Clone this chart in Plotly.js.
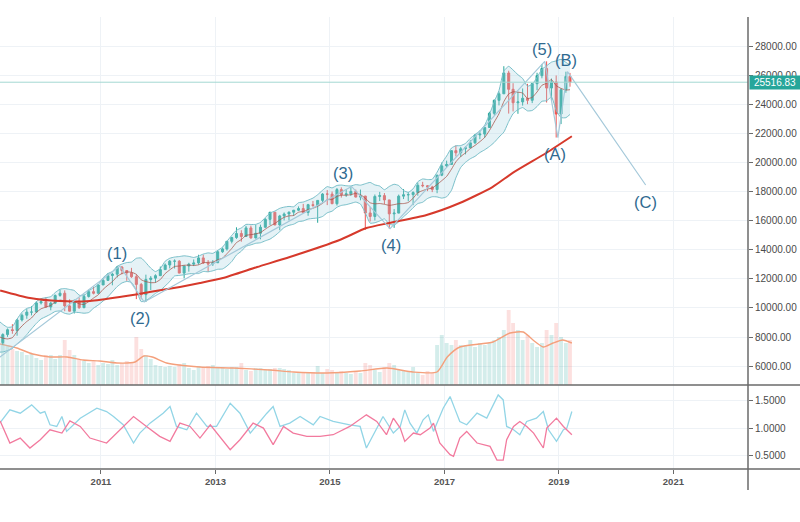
<!DOCTYPE html>
<html>
<head>
<meta charset="utf-8">
<script src="https://cdn.plot.ly/plotly-3.0.1.min.js"></script>
<style>html,body{margin:0;padding:0;background:#fff;}#chart{width:800px;height:522px;}</style>
</head>
<body>
<div id="chart"></div>
<script>
// ---------- DATA (monthly) ----------
const months = [
'2009-03-15','2009-04-15','2009-05-15','2009-06-15','2009-07-15','2009-08-15','2009-09-15','2009-10-15','2009-11-15','2009-12-15',
'2010-01-15','2010-02-15','2010-03-15','2010-04-15','2010-05-15','2010-06-15','2010-07-15','2010-08-15','2010-09-15','2010-10-15','2010-11-15','2010-12-15',
'2011-01-15','2011-02-15','2011-03-15','2011-04-15','2011-05-15','2011-06-15','2011-07-15','2011-08-15','2011-09-15','2011-10-15','2011-11-15','2011-12-15',
'2012-01-15','2012-02-15','2012-03-15','2012-04-15','2012-05-15','2012-06-15','2012-07-15','2012-08-15','2012-09-15','2012-10-15','2012-11-15','2012-12-15',
'2013-01-15','2013-02-15','2013-03-15','2013-04-15','2013-05-15','2013-06-15','2013-07-15','2013-08-15','2013-09-15','2013-10-15','2013-11-15','2013-12-15',
'2014-01-15','2014-02-15','2014-03-15','2014-04-15','2014-05-15','2014-06-15','2014-07-15','2014-08-15','2014-09-15','2014-10-15','2014-11-15','2014-12-15',
'2015-01-15','2015-02-15','2015-03-15','2015-04-15','2015-05-15','2015-06-15','2015-07-15','2015-08-15','2015-09-15','2015-10-15','2015-11-15','2015-12-15',
'2016-01-15','2016-02-15','2016-03-15','2016-04-15','2016-05-15','2016-06-15','2016-07-15','2016-08-15','2016-09-15','2016-10-15','2016-11-15','2016-12-15',
'2017-01-15','2017-02-15','2017-03-15','2017-04-15','2017-05-15','2017-06-15','2017-07-15','2017-08-15','2017-09-15','2017-10-15','2017-11-15','2017-12-15',
'2018-01-15','2018-02-15','2018-03-15','2018-04-15','2018-05-15','2018-06-15','2018-07-15','2018-08-15','2018-09-15','2018-10-15','2018-11-15','2018-12-15',
'2019-01-15','2019-02-15','2019-03-13'];

const openP = [
7063,7609,8168,8500,8447,9172,9496,9712,9713,10344,
10428,10067,10325,10857,11009,10137,9774,10466,10015,10788,11118,11006,
11578,11892,12226,12320,12811,12570,12414,12143,11614,10913,11955,12046,
12218,12633,12952,13212,13214,12393,12880,13009,13091,13437,13096,13026,
13104,13861,14054,14579,14840,15116,14910,15500,14810,15130,15546,16086,
16577,15699,16322,16458,16581,16717,16827,16563,17098,17043,17391,17828,
17823,17165,18133,17776,17841,18011,17620,17690,16528,16285,17664,17720,
17425,16466,16517,17685,17774,17787,17930,18432,18401,18308,18142,19124,
19763,19864,20812,20663,20941,21009,21350,21891,21948,22405,23377,24272,
24719,26149,25029,24103,24163,24416,24271,25415,25965,26458,25116,25538,
23327,24999,25916];
const highP = [
7924,8258,8588,8878,9240,9620,9918,10119,10450,10580,
10729,10414,10927,11258,11205,10595,10584,10720,10948,11245,11452,11625,
12020,12391,12419,12876,12877,12580,12753,12285,11717,12285,12188,12313,
12842,13055,13290,13338,13280,12899,13103,13331,13653,13661,13290,13290,
13969,14149,14585,14888,15542,15340,15634,15658,15709,15722,16174,16588,
16589,16398,16563,16631,16736,16978,17152,17153,17351,17395,17895,18103,
18003,18244,18289,18175,18351,18137,18137,17702,16933,17799,17977,17896,
17425,16795,17790,18167,17960,18016,18622,18668,18450,18399,19152,19988,
20125,20851,21169,21070,21112,21535,21929,22179,22420,23485,24328,24877,
26617,26307,25449,24858,25087,25403,25469,26167,26770,26951,25770,25980,
25086,26241,26156];
const lowP = [
6470,7467,8008,8221,8087,9066,9253,9487,9679,10236,
10025,9835,10263,10768,9774,9758,9615,9937,9985,10711,10929,11006,
11574,11891,11555,12093,12311,11862,12064,10604,10597,10404,11231,11735,
12218,12633,12716,12710,12391,12035,12492,12875,12977,13019,12471,12883,
13104,13784,13937,14434,14746,14551,14910,14760,14777,14719,15511,15703,
15699,15341,16015,16015,16334,16662,16563,16334,16945,15855,17264,17068,
17136,17037,17585,17630,17700,17597,17399,15370,15942,16013,17346,17139,
15450,15503,16510,17484,17331,17063,17713,18289,18028,17959,17884,19057,
19677,19831,20413,20380,20554,20996,21279,21600,21709,22400,23243,23922,
24719,23360,23509,23345,23908,24007,24078,24965,25785,24122,24268,21713,
22639,24794,25208];
const closeP = [
7609,8168,8500,8447,9172,9496,9712,9713,10344,10428,
10067,10325,10857,11009,10137,9774,10466,10015,10788,11118,11006,11578,
11892,12226,12320,12811,12570,12414,12143,11614,10913,11955,12046,12218,
12633,12952,13212,13214,12393,12880,13009,13091,13437,13096,13026,13104,
13861,14054,14579,14840,15116,14910,15500,14810,15130,15546,16086,16577,
15699,16322,16458,16581,16717,16827,16563,17098,17043,17391,17828,17823,
17165,18133,17776,17841,18011,17620,17690,16528,16285,17664,17720,17425,
16466,16517,17685,17774,17787,17930,18432,18401,18308,18142,19124,19763,
19864,20812,20663,20941,21009,21350,21891,21948,22405,23377,24272,24719,
26149,25029,24103,24163,24416,24271,25415,25965,26458,25116,25538,23327,
24999,25916,25517];

// Bollinger basis and half-width
const bbMid = [
8056,7923,7868,7957,8379,8757,9065,9308,9687,9939,
10053,10175,10404,10537,10479,10420,10449,10280,10236,10432,10679,10901,
11276,11564,11804,12165,12364,12468,12452,12310,11931,11808,11734,11749,
11953,12361,12612,12846,12881,12930,12942,12917,12962,13103,13132,13151,
13305,13428,13725,14088,14490,14700,14989,15035,15093,15179,15414,15630,
15808,16046,16228,16327,16355,16581,16629,16757,16850,16984,17185,17437,
17450,17668,17745,17748,17785,17876,17788,17538,17227,17157,17177,17124,
17050,17100,17163,17173,17246,17539,17922,18065,18172,18243,18481,18748,
19040,19541,20045,20409,20658,20955,21171,21428,21721,22194,22779,23344,
24184,24709,24854,24833,24772,24396,24474,24846,25305,25445,25698,25281,
25088,24979,25000];
const bbHalf = [
1100,950,800,750,850,950,900,750,750,700,
650,600,650,750,850,850,750,600,600,750,700,700,
800,800,700,700,650,650,700,1100,1500,1300,1000,750,
750,850,800,650,650,650,600,550,600,600,650,600,
650,750,850,900,850,800,750,700,650,700,800,900,
850,800,700,650,600,650,650,650,700,800,900,900,
800,750,700,650,600,600,650,1000,1400,1300,1200,1000,
1300,1400,1250,900,700,650,750,800,650,600,850,1200,
1400,1450,1100,750,650,700,750,750,850,1100,1400,1600,
2100,1900,1500,1200,1000,850,900,1000,1100,1200,1200,1700,
2000,1900,1700];

// Volume (arbitrary units)
const volume = [
450,420,400,360,340,330,300,310,270,250,
300,300,260,300,450,350,300,260,240,220,240,200,
220,210,250,200,220,240,220,480,360,300,260,200,
190,180,190,180,210,220,170,150,190,170,190,200,
170,180,160,180,180,220,150,140,170,170,150,160,
170,170,160,150,120,120,120,120,130,190,120,160,
150,120,140,120,110,130,120,220,200,150,130,180,
220,200,150,140,130,180,120,100,140,120,400,500,
420,400,450,400,400,450,380,420,400,420,450,480,
550,750,620,550,450,500,420,380,420,550,500,620,
480,420,450];

// Volume moving average (decimal year, value)
const volMaT = [2009.24,2009.53,2009.81,2010.11,2010.41,2010.69,2010.98,2011.28,2011.60,2011.75,2011.90,2012.15,2012.73,2013.31,2013.95,2014.36,2014.95,2015.53,2016.0,2016.45,2016.87,2017.05,2017.27,2017.85,2018.15,2018.38,2018.55,2018.73,2018.90,2019.07,2019.23];
const volMaV = [410,370,310,280,280,250,240,220,230,290,280,220,180,170,150,130,120,140,170,130,130,280,380,430,520,530,450,380,420,450,420];

// Long moving average (red)
const maT = [2009.24,2009.76,2010.28,2010.81,2011.33,2011.85,2012.38,2012.73,2013.13,2013.73,2014.30,2015.17,2015.64,2016.04,2016.69,2017.27,2017.84,2018.20,2018.78,2019.23];
const maV = [11200,10680,10470,10480,10750,11090,11440,11710,12055,12810,13500,14670,15490,15840,16390,17210,18310,19300,20650,21800];

// Vortex indicator
const viPlusT = [2009.24,2009.41,2009.59,2009.79,2009.94,2010.02,2010.11,2010.23,2010.32,2010.40,2010.64,2010.93,2011.10,2011.22,2011.39,2011.57,2011.68,2011.86,2012.09,2012.21,2012.32,2012.50,2012.67,2012.85,2013.02,2013.26,2013.43,2013.61,2013.90,2014.01,2014.13,2014.30,2014.48,2014.71,2014.83,2015.06,2015.35,2015.53,2015.64,2015.76,2015.93,2016.11,2016.23,2016.31,2016.40,2016.52,2016.63,2016.72,2016.81,2016.98,2017.10,2017.19,2017.27,2017.39,2017.57,2017.74,2017.94,2018.03,2018.09,2018.21,2018.32,2018.44,2018.61,2018.73,2018.82,2018.96,2019.08,2019.14,2019.23];
const viPlusV = [1.10,1.33,1.27,1.42,1.27,1.30,1.06,1.03,1.21,0.94,1.18,1.36,1.30,1.21,1.06,0.73,0.91,1.09,1.27,1.39,1.03,0.97,1.27,1.03,1.03,1.45,1.27,0.91,1.27,1.39,1.03,1.09,1.21,1.06,1.21,1.12,1.06,1.03,0.64,0.88,1.21,0.91,1.03,1.33,1.09,0.91,1.15,1.24,0.94,1.36,1.57,1.33,1.12,1.06,1.27,1.18,1.60,1.51,1.03,0.97,0.88,1.12,1.18,1.30,0.97,0.76,0.97,1.00,1.30];
const viMinusT = [2009.24,2009.41,2009.59,2009.76,2009.94,2010.11,2010.32,2010.46,2010.64,2010.81,2011.10,2011.39,2011.57,2011.80,2012.03,2012.21,2012.38,2012.56,2012.73,2012.91,2013.08,2013.26,2013.43,2013.66,2013.84,2014.01,2014.19,2014.36,2014.60,2014.83,2015.06,2015.35,2015.64,2015.82,2015.99,2016.11,2016.23,2016.31,2016.46,2016.58,2016.75,2016.81,2016.92,2017.10,2017.16,2017.27,2017.39,2017.57,2017.80,2017.92,2018.03,2018.09,2018.21,2018.32,2018.44,2018.56,2018.73,2018.79,2018.96,2019.08,2019.23];
const viMinusV = [1.13,0.73,0.82,0.64,0.79,0.97,0.91,1.13,1.03,0.82,0.73,1.03,1.21,1.03,0.85,0.76,1.09,1.03,0.82,1.06,0.85,0.61,0.79,1.09,1.00,0.70,1.03,0.91,0.85,0.85,0.88,1.03,1.24,1.12,0.88,1.18,1.00,0.76,0.91,0.88,1.00,1.09,0.73,0.52,0.49,0.82,0.94,0.73,0.67,0.42,0.42,0.79,1.03,1.12,1.03,0.91,0.64,1.00,1.18,1.03,0.88];

// Elliott wave points
const waveDates = ['2009-03-09','2011-05-02','2011-10-04','2015-05-19','2016-01-20','2018-10-03','2018-12-26','2019-02-25','2020-07-08'];
const waveValues = [6470,12876,10404,18351,15450,26951,21713,26241,18450];
const waveLabels = ['','(1)','(2)','(3)','(4)','(5)','(A)','(B)','(C)'];

const lastPrice = 25516.83;
const priceTicks = [6000,8000,10000,12000,14000,16000,18000,20000,22000,24000,26000,28000];
const viTicks = [0.5,1.0,1.5];
const yearTickDates = ['2011-01-01','2013-01-01','2015-01-01','2017-01-01','2019-01-01','2021-01-01'];
const yearTickText = ['2011','2013','2015','2017','2019','2021'];

// ---------- helpers ----------
function yd(y){
  const yr = Math.floor(y);
  const s = Date.UTC(yr,0,1), e = Date.UTC(yr+1,0,1);
  return new Date(s + (y-yr)*(e-s)).toISOString().slice(0,10);
}
const bbUpper = bbMid.map((m,i)=>m+bbHalf[i]);
const bbLower = bbMid.map((m,i)=>m-bbHalf[i]);
const volColors = closeP.map((c,i)=> c>=openP[i] ? 'rgba(38,166,154,0.20)' : 'rgba(239,83,80,0.18)');

// ---------- traces ----------
const traces = [
  {type:'bar', x:months, y:volume, xaxis:'x', yaxis:'y', marker:{color:volColors, line:{width:0}}, hoverinfo:'skip'},
  {type:'scatter', mode:'lines', x:volMaT.map(yd), y:volMaV, xaxis:'x', yaxis:'y', line:{color:'#f4a07c', width:1.4, shape:'spline', smoothing:0.6}, hoverinfo:'skip'},
  {type:'scatter', mode:'lines', x:months, y:bbUpper, xaxis:'x', yaxis:'y3', line:{color:'#78bfc9', width:1, shape:'spline', smoothing:0.5}, hoverinfo:'skip'},
  {type:'scatter', mode:'lines', x:months, y:bbLower, xaxis:'x', yaxis:'y3', line:{color:'#78bfc9', width:1, shape:'spline', smoothing:0.5}, fill:'tonexty', fillcolor:'rgba(170,212,226,0.30)', hoverinfo:'skip'},
  {type:'scatter', mode:'lines', x:months, y:bbMid, xaxis:'x', yaxis:'y3', line:{color:'rgba(165,80,70,0.75)', width:1, shape:'spline', smoothing:0.5}, hoverinfo:'skip'},
  {type:'scatter', mode:'lines', x:maT.map(yd), y:maV, xaxis:'x', yaxis:'y3', line:{color:'#d6392b', width:2, shape:'spline', smoothing:0.6}, hoverinfo:'skip'},
  {type:'candlestick', x:months, open:openP, high:highP, low:lowP, close:closeP, xaxis:'x', yaxis:'y3',
    increasing:{line:{color:'#26a69a', width:1}, fillcolor:'#26a69a'},
    decreasing:{line:{color:'#ef5350', width:1}, fillcolor:'#ef5350'}, whiskerwidth:0, hoverinfo:'skip'},
  {type:'scatter', mode:'lines', x:waveDates, y:waveValues, xaxis:'x', yaxis:'y3', line:{color:'#a5c9da', width:1.2}, hoverinfo:'skip'},
  {type:'scatter', mode:'lines', x:viPlusT.map(yd), y:viPlusV, xaxis:'x', yaxis:'y2', line:{color:'#92d5e6', width:1.3}, hoverinfo:'skip'},
  {type:'scatter', mode:'lines', x:viMinusT.map(yd), y:viMinusV, xaxis:'x', yaxis:'y2', line:{color:'#f27a9e', width:1.3}, hoverinfo:'skip'}
];

// label placement offsets (px) for the wave labels: [xshift, yshift]
const labelShift = [[0,0],[-3,13],[-4,-16],[-9,13],[1,-16],[-3,12],[-3,-16],[-1,12],[0,-17]];
const annotations = [];
waveLabels.forEach((t,i)=>{
  if(!t) return;
  annotations.push({x:waveDates[i], y:waveValues[i], xref:'x', yref:'y3', text:t, showarrow:false,
    xanchor:'center', yanchor:'middle', xshift:labelShift[i][0], yshift:labelShift[i][1],
    font:{family:'Liberation Sans, Arial, sans-serif', size:16.5, color:'#2f6a90'}});
});
annotations.push({x:1, xref:'paper', y:lastPrice, yref:'y3', text:lastPrice.toFixed(2), showarrow:false,
  xanchor:'left', yanchor:'middle', xshift:1, bgcolor:'#26a69a', borderpad:1, width:48,
  font:{family:'Liberation Sans, Arial, sans-serif', size:10, color:'#ffffff'}});

const grid = '#eef2f6';
const lineCol = '#6a6a6a';
const split = (469-385)/452;

const layout = {
  width:800, height:522,
  margin:{l:0, r:52, t:17, b:53},
  paper_bgcolor:'#ffffff', plot_bgcolor:'#ffffff',
  showlegend:false, bargap:0.05, dragmode:false,
  font:{family:'Liberation Sans, Arial, sans-serif', color:'#4a4a4a', size:10},
  xaxis:{type:'date', range:['2009-03-28','2022-04-22'], anchor:'y2', domain:[0,1],
    tickvals:yearTickDates, ticktext:yearTickText, ticks:'outside', ticklen:4, tickcolor:lineCol,
    tickfont:{size:9.5, color:'#555555', weight:'bold'},
    showgrid:true, gridcolor:grid, zeroline:false, showline:false, rangeslider:{visible:false}, fixedrange:true},
  yaxis:{domain:[split,1], range:[0,3680], visible:false, showgrid:false, zeroline:false, fixedrange:true},
  yaxis3:{overlaying:'y', side:'right', anchor:'x', range:[4700,30000], tickvals:priceTicks, tickformat:'.2f',
    ticks:'outside', ticklen:4, tickcolor:lineCol, showgrid:true, gridcolor:grid, zeroline:false, showline:false,
    tickfont:{size:10, color:'#4a4a4a'}, fixedrange:true},
  yaxis2:{domain:[0,split], range:[0.26,1.78], side:'right', anchor:'x', tickvals:viTicks, tickformat:'.4f',
    ticks:'outside', ticklen:4, tickcolor:lineCol, showgrid:true, gridcolor:grid, zeroline:false, showline:false,
    tickfont:{size:10, color:'#4a4a4a'}, fixedrange:true},
  shapes:[
    {type:'line', xref:'paper', yref:'y3', x0:0, x1:1, y0:lastPrice, y1:lastPrice, line:{color:'#a3d8d2', width:1}},
    {type:'line', xref:'paper', yref:'paper', x0:0, x1:800/748, y0:split, y1:split, line:{color:lineCol, width:1.5}},
    {type:'line', xref:'paper', yref:'paper', x0:0, x1:800/748, y0:0, y1:0, line:{color:lineCol, width:1.5}},
    {type:'line', xref:'paper', yref:'paper', x0:1, x1:1, y0:-21/452, y1:1, line:{color:lineCol, width:1.5}}
  ],
  annotations:annotations
};

Plotly.newPlot('chart', traces, layout, {staticPlot:true, displayModeBar:false});
</script>
</body>
</html>
